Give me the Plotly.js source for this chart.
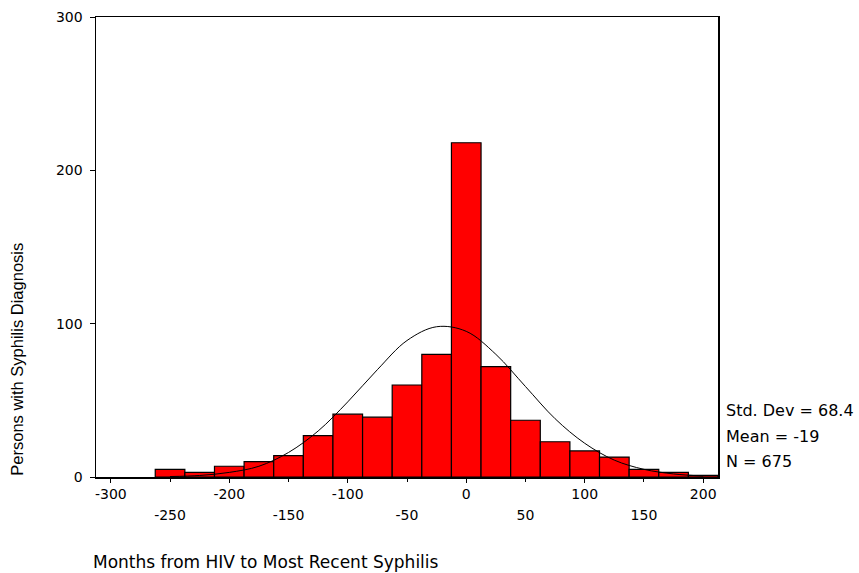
<!DOCTYPE html>
<html>
<head>
<meta charset="utf-8">
<script src="https://cdn.plot.ly/plotly-3.0.1.min.js"></script>
<style>html,body{margin:0;padding:0;background:#fff}#chart{width:859px;height:573px}</style>
</head>
<body>
<div id="chart"></div>
<script>
// Histogram bins (centres, months) and counts
const binCenters = [-250,-225,-200,-175,-150,-125,-100,-75,-50,-25,0,25,50,75,100,125,150,175,200];
const counts     = [5,3,7,10,14,27,41,39,60,80,218,72,37,23,17,13,5,3,1];
// Fitted normal curve
const curveX = [-250,-225,-200,-175,-150,-125,-100,-75,-50,-25,0,25,50,75,100,125,150,175,200];
const curveY = [0.3,1,3,7,16,30,49,70,89,98,95,80,59,38,22,11,5,2,0.6];
// Tick labels (two staggered rows)
const ticksRow1 = [-300,-200,-100,0,100,200];
const ticksRow2 = [-250,-150,-50,50,150];
const yTicks = [0,100,200,300];
const statsLines = ["Std. Dev = 68.4","Mean = -19","N = 675"];

const tickFont = {family:"DejaVu Sans, Arial, sans-serif", size:14, color:"#000"};
const xr = [-312.5, 212.5];

const traces = [
  {type:"bar", x:binCenters, y:counts, width:25,
   marker:{color:"#ff0000", line:{color:"#000", width:1.2}}, hoverinfo:"x+y"},
  {type:"scatter", mode:"lines", x:curveX, y:curveY,
   line:{color:"#000", width:1, shape:"spline"}, hoverinfo:"skip"},
  {type:"scatter", mode:"markers", x:[0], y:[0], xaxis:"x2", marker:{opacity:0}, hoverinfo:"skip", showlegend:false}
];

const layout = {
  width:859, height:573,
  margin:{l:96, r:141, t:17, b:96},
  paper_bgcolor:"#fff", plot_bgcolor:"#fff",
  showlegend:false, bargap:0,
  font:tickFont,
  xaxis:{range:xr, tickvals:ticksRow1, ticktext:ticksRow1.map(String),
    ticks:"outside", ticklen:4, tickcolor:"#000", tickwidth:1,
    showline:true, linecolor:"#000", linewidth:1.5, mirror:true,
    showgrid:false, zeroline:false, tickfont:tickFont, ticklabelstandoff:0},
  xaxis2:{range:xr, overlaying:"x", anchor:"y", side:"bottom",
    tickvals:ticksRow2, ticktext:ticksRow2.map(String),
    ticks:"outside", ticklen:4, tickcolor:"#000", tickwidth:1,
    showline:false, showgrid:false, zeroline:false, tickfont:tickFont, ticklabelstandoff:21},
  yaxis:{range:[0,300], tickvals:yTicks, ticktext:yTicks.map(String),
    ticks:"outside", ticklen:5, tickcolor:"#000", tickwidth:1,
    showline:true, linecolor:"#000", linewidth:1.5, mirror:true,
    showgrid:false, zeroline:false, tickfont:tickFont, ticklabelstandoff:4},
  annotations:[
    {xref:"paper", yref:"paper", x:-0.127, y:0.255, xanchor:"center", yanchor:"middle",
     text:"Persons with Syphilis Diagnosis", textangle:-90, showarrow:false,
     font:{family:"Liberation Sans, Arial, sans-serif", size:16.5, color:"#000"}},
    {xref:"paper", yref:"paper", x:-0.008, y:-0.185, xanchor:"left", yanchor:"middle",
     text:"Months from HIV to Most Recent Syphilis", showarrow:false,
     font:{family:"DejaVu Sans, Arial, sans-serif", size:17, color:"#000"}}
  ].concat(statsLines.map((t,i)=>({
     xref:"paper", yref:"paper", x:1.01, y:0.145-0.056*i, xanchor:"left", yanchor:"middle",
     text:t, showarrow:false, font:{family:"DejaVu Sans, Arial, sans-serif", size:16, color:"#000"}})))
};

Plotly.newPlot("chart", traces, layout, {displayModeBar:false, staticPlot:true});
</script>
</body>
</html>
